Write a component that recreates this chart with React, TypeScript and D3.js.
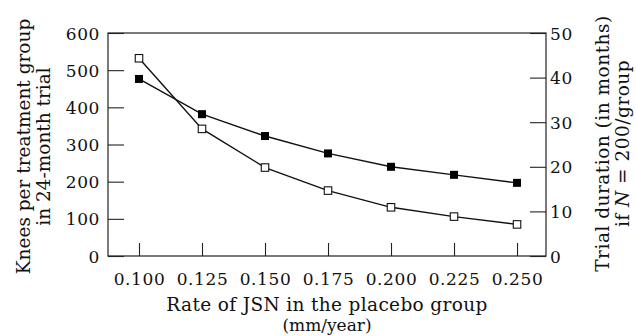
import React, {useEffect, useRef} from 'react';
import * as d3 from 'd3';

// Rate of JSN in the placebo group (mm/year)
const rates = [0.100, 0.125, 0.150, 0.175, 0.200, 0.225, 0.250];
// Knees per treatment group in a 24-month trial (open squares, left axis)
const knees = [532, 342, 238, 176, 131, 106, 85];
// Trial duration in months if N = 200/group (filled squares, right axis)
const duration = [39.7, 31.8, 26.9, 23.0, 20.0, 18.2, 16.4];

const leftTicks = [0, 100, 200, 300, 400, 500, 600];
const rightTicks = [0, 10, 20, 30, 40, 50];

const FONT = '"DejaVu Serif", "Liberation Serif", serif';

export default function App() {
    const svgRef = useRef<SVGSVGElement>(null);

    useEffect(() => {
        const W = 636, H = 336;
        const margin = {top: 33, right: 90, bottom: 80, left: 108};
        const width = W - margin.left - margin.right;
        const height = H - margin.top - margin.bottom;

        const root = d3.select(svgRef.current);
        root.selectAll('*').remove();
        root.attr('width', W).attr('height', H);

        const svg = root.append('g')
            .attr('transform', `translate(${margin.left},${margin.top})`);

        const x = d3.scaleLinear().domain([0.0877, 0.2615]).range([0, width]);
        const yL = d3.scaleLinear().domain([0, 600]).range([height, 0]);
        const yR = d3.scaleLinear().domain([0, 50]).range([height, 0]);

        // frame
        svg.append('rect')
            .attr('x', 0).attr('y', 0)
            .attr('width', width).attr('height', height)
            .attr('fill', 'none')
            .attr('stroke', '#222')
            .attr('stroke-width', 1.2);

        const styleAxis = (g: any) => {
            g.select('.domain').remove();
            g.selectAll('line').attr('stroke', '#222').attr('stroke-width', 1.1);
            g.selectAll('text')
                .attr('font-family', FONT)
                .attr('font-size', '17px')
                .attr('letter-spacing', '0.6px')
                .attr('fill', '#111');
        };

        svg.append('g')
            .call(d3.axisLeft(yL).tickValues(leftTicks).tickSize(-16).tickPadding(8)
                .tickFormat(d3.format('d')))
            .call(styleAxis)
            .selectAll('text').attr('dy', '0.36em');

        svg.append('g')
            .attr('transform', `translate(${width},0)`)
            .call(d3.axisRight(yR).tickValues(rightTicks).tickSize(-16).tickPadding(4)
                .tickFormat(d3.format('d')))
            .call(styleAxis)
            .selectAll('text').attr('dy', '0.36em');

        svg.append('g')
            .attr('transform', `translate(0,${height})`)
            .call(d3.axisBottom(x).tickValues(rates).tickSize(-13).tickPadding(29)
                .tickFormat(d3.format('.3f')))
            .call(styleAxis)
            .selectAll('text').attr('dy', '0');

        const lineL = d3.line<number>()
            .x((d, i) => x(rates[i]))
            .y(d => yL(d));
        const lineR = d3.line<number>()
            .x((d, i) => x(rates[i]))
            .y(d => yR(d));

        svg.append('path')
            .datum(duration)
            .attr('fill', 'none')
            .attr('stroke', '#111')
            .attr('stroke-width', 1.4)
            .attr('d', lineR);

        svg.append('path')
            .datum(knees)
            .attr('fill', 'none')
            .attr('stroke', '#111')
            .attr('stroke-width', 1.4)
            .attr('d', lineL);

        const s = 8;
        svg.selectAll('.filled')
            .data(duration)
            .enter()
            .append('rect')
            .attr('class', 'filled')
            .attr('x', (d, i) => x(rates[i]) - s / 2)
            .attr('y', d => yR(d) - s / 2)
            .attr('width', s)
            .attr('height', s)
            .attr('fill', '#000');

        const so = 7.5;
        svg.selectAll('.open')
            .data(knees)
            .enter()
            .append('rect')
            .attr('class', 'open')
            .attr('x', (d, i) => x(rates[i]) - so / 2)
            .attr('y', d => yL(d) - so / 2)
            .attr('width', so)
            .attr('height', so)
            .attr('fill', '#fff')
            .attr('stroke', '#111')
            .attr('stroke-width', 1.1);

        // axis titles
        const titleStyle = (t: any) => t
            .attr('font-family', FONT)
            .attr('font-size', '18.5px')
            .attr('fill', '#111')
            .attr('text-anchor', 'middle');

        svg.append('text')
            .attr('x', width / 2)
            .attr('y', height + 55)
            .attr('letter-spacing', '0.35px')
            .call(titleStyle)
            .text('Rate of JSN in the placebo group');
        svg.append('text')
            .attr('x', width / 2)
            .attr('y', height + 75)
            .call(titleStyle)
            .attr('font-size', '17px')
            .text('(mm/year)');

        const leftTitle = svg.append('g')
            .attr('transform', `translate(${-margin.left + 30},${height / 2 + 2}) rotate(-90)`);
        leftTitle.append('text').attr('x', 0).attr('y', 0).call(titleStyle)
            .text('Knees per treatment group');
        leftTitle.append('text').attr('x', 0).attr('y', 20).call(titleStyle)
            .text('in 24-month trial');

        const rightTitle = svg.append('g')
            .attr('transform', `translate(${width + 63},${height / 2 - 1}) rotate(-90)`);
        rightTitle.append('text').attr('x', 0).attr('y', 0).call(titleStyle)
            .attr('letter-spacing', '0.5px')
            .text('Trial duration (in months)');
        const t2 = rightTitle.append('text').attr('x', 0).attr('y', 20).call(titleStyle)
            .attr('letter-spacing', '0.5px');
        t2.append('tspan').text('if ');
        t2.append('tspan').attr('font-style', 'italic').text('N');
        t2.append('tspan').text(' = 200/group');
    }, []);

    return (
        <div style={{position: 'absolute', left: 0, top: 0, background: '#fff'}}>
            <svg ref={svgRef} style={{display: 'block'}}></svg>
        </div>
    );
}
